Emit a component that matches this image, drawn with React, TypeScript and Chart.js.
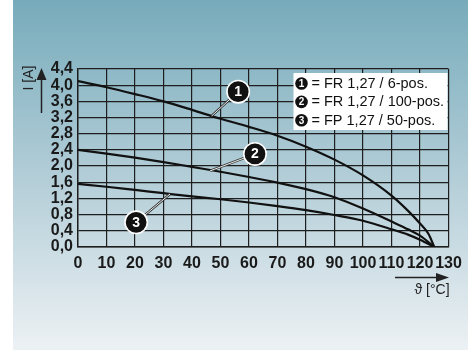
import React, { useEffect, useRef } from "react";
import { Chart, registerables } from "chart.js";

Chart.register(...registerables);

const xTicks = [0, 10, 20, 30, 40, 50, 60, 70, 80, 90, 100, 110, 120, 130];
const yTicks = [0, 0.4, 0.8, 1.2, 1.6, 2.0, 2.4, 2.8, 3.2, 3.6, 4.0, 4.4];

const curve1T = [0, 10, 20, 30, 40, 50, 60, 70, 80, 90, 100, 110, 116, 120, 123, 125];
const curve1I = [4.1, 3.95, 3.78, 3.6, 3.39, 3.17, 2.97, 2.75, 2.48, 2.16, 1.77, 1.27, 0.88, 0.58, 0.32, 0];

const curve2T = [0, 10, 20, 30, 40, 50, 60, 70, 80, 90, 100, 110, 116, 120, 125];
const curve2I = [2.4, 2.31, 2.21, 2.1, 1.98, 1.86, 1.73, 1.59, 1.43, 1.23, 0.95, 0.63, 0.43, 0.28, 0];

const curve3T = [0, 10, 20, 30, 40, 50, 60, 70, 80, 90, 100, 110, 116, 120, 125];
const curve3I = [1.56, 1.49, 1.41, 1.33, 1.25, 1.18, 1.1, 1.01, 0.91, 0.79, 0.65, 0.44, 0.3, 0.18, 0];

const legendLabels = ["= FR 1,27 / 6-pos.", "= FR 1,27 / 100-pos.", "= FP 1,27 / 50-pos."];
// callout: circle centre (°C, A) and leader target on curve (°C, A)
const calloutNum = ["1", "2", "3"];
const calloutCx = [56.2, 62.1, 20.4];
const calloutCy = [3.84, 2.3, 0.61];
const calloutTx = [46.9, 46.3, 32.3];
const calloutTy = [3.24, 1.88, 1.31];

const FONT = "'Liberation Sans', Arial, Helvetica, sans-serif";

const decorPlugin = {
  id: "decor",
  beforeDraw(chart: any) {
    const ctx = chart.ctx;
    ctx.save();
    const g = ctx.createLinearGradient(0, 0, 0, 350);
    g.addColorStop(0, "#77abbb");
    g.addColorStop(0.5, "#b2cdd7");
    g.addColorStop(1, "#ecf1f4");
    ctx.fillStyle = g;
    ctx.fillRect(13, 0, 455, 350);
    ctx.restore();
  },
  afterDraw(chart: any) {
    const ctx = chart.ctx;
    const xs = chart.scales.x;
    const ys = chart.scales.y;
    const ca = chart.chartArea;
    ctx.save();
    // callouts
    for (let i = 0; i < calloutNum.length; i++) {
      const cx = xs.getPixelForValue(calloutCx[i]);
      const cy = ys.getPixelForValue(calloutCy[i]);
      const tx = xs.getPixelForValue(calloutTx[i]);
      const ty = ys.getPixelForValue(calloutTy[i]);
      ctx.beginPath();
      ctx.moveTo(cx, cy);
      ctx.lineTo(tx, ty);
      ctx.strokeStyle = "#333";
      ctx.lineWidth = 2.4;
      ctx.stroke();
      ctx.beginPath();
      ctx.moveTo(cx, cy);
      ctx.lineTo(tx, ty);
      ctx.strokeStyle = "#ffffff";
      ctx.lineWidth = 0.9;
      ctx.stroke();
      ctx.beginPath();
      ctx.arc(cx, cy, 11.2, 0, Math.PI * 2);
      ctx.fillStyle = "#111";
      ctx.fill();
      ctx.strokeStyle = "#fff";
      ctx.lineWidth = 1.6;
      ctx.stroke();
      ctx.fillStyle = "#fff";
      ctx.font = `bold 14px ${FONT}`;
      ctx.textAlign = "center";
      ctx.textBaseline = "middle";
      ctx.fillText(calloutNum[i], cx, cy + 0.5);
    }
    // legend box
    const bx = ca.left + 215.5;
    const by = ca.top + 4;
    ctx.fillStyle = "#fff";
    ctx.fillRect(bx, by, 154, 57);
    for (let i = 0; i < legendLabels.length; i++) {
      const yy = by + 10.5 + i * 18.4;
      ctx.beginPath();
      ctx.arc(bx + 8, yy, 6.3, 0, Math.PI * 2);
      ctx.fillStyle = "#111";
      ctx.fill();
      ctx.fillStyle = "#fff";
      ctx.font = `bold 10px ${FONT}`;
      ctx.textAlign = "center";
      ctx.textBaseline = "middle";
      ctx.fillText(calloutNum[i], bx + 8, yy + 0.5);
      ctx.fillStyle = "#111";
      ctx.font = `14.5px ${FONT}`;
      ctx.textAlign = "left";
      ctx.fillText(legendLabels[i], bx + 18, yy + 0.5);
    }
    // y axis title + arrow
    ctx.fillStyle = "#222";
    ctx.strokeStyle = "#222";
    ctx.save();
    ctx.translate(29, ca.top + 9);
    ctx.rotate(-Math.PI / 2);
    ctx.font = `14px ${FONT}`;
    ctx.textAlign = "center";
    ctx.textBaseline = "middle";
    ctx.fillText("I [A]", 0, 0);
    ctx.restore();
    ctx.beginPath();
    ctx.moveTo(41.5, ca.top + 44);
    ctx.lineTo(41.5, ca.top + 8);
    ctx.lineWidth = 1.5;
    ctx.stroke();
    ctx.beginPath();
    ctx.moveTo(41.5, ca.top - 1);
    ctx.lineTo(36.5, ca.top + 11);
    ctx.lineTo(46.5, ca.top + 11);
    ctx.closePath();
    ctx.fill();
    // x axis title + arrow
    const ay = ca.bottom + 30.5;
    ctx.beginPath();
    ctx.moveTo(395, ay);
    ctx.lineTo(440, ay);
    ctx.stroke();
    ctx.beginPath();
    ctx.moveTo(449, ay);
    ctx.lineTo(436, ay - 4.5);
    ctx.lineTo(436, ay + 4.5);
    ctx.closePath();
    ctx.fill();
    ctx.font = `14px ${FONT}`;
    ctx.textAlign = "center";
    ctx.textBaseline = "middle";
    ctx.fillText("\u03d1 [°C]", 432, ay + 12.5);
    ctx.restore();
  },
};

function toPts(t: number[], v: number[]) {
  return t.map((x, i) => ({ x, y: v[i] }));
}

export default function App() {
  const ref = useRef<HTMLCanvasElement>(null);
  useEffect(() => {
    if (!ref.current) return;
    const lineDs = (data: any) => ({
      data,
      borderColor: "#111",
      borderWidth: 2.2,
      pointRadius: 0,
      cubicInterpolationMode: "monotone" as const,
      fill: false,
    });
    const chart = new Chart(ref.current, {
      type: "line",
      data: {
        datasets: [
          lineDs(toPts(curve1T, curve1I)),
          lineDs(toPts(curve2T, curve2I)),
          lineDs(toPts(curve3T, curve3I)),
        ],
      },
      options: {
        animation: false,
        responsive: false,
        devicePixelRatio: 1,
        layout: { padding: { top: 69, right: 24.5, left: 0, bottom: 0 } },
        plugins: { legend: { display: false }, tooltip: { enabled: false } },
        scales: {
          x: {
            type: "linear",
            min: 0,
            max: 130,
            afterBuildTicks: (s: any) => {
              s.ticks = xTicks.map((v) => ({ value: v }));
            },
            afterFit: (s: any) => {
              s.height = 104;
            },
            ticks: {
              autoSkip: false,
              maxRotation: 0,
              padding: 7,
              color: "#1a1a1a",
              font: { family: FONT, size: 16, weight: "bold" },
              callback: (v: any) => String(v),
            },
            grid: { color: "#1e1e1e", lineWidth: 1.2, drawTicks: false },
            border: { color: "#1e1e1e", width: 1.4 },
          },
          y: {
            type: "linear",
            min: 0,
            max: 4.4,
            afterBuildTicks: (s: any) => {
              s.ticks = yTicks.map((v) => ({ value: v }));
            },
            afterFit: (s: any) => {
              s.width = 78;
            },
            ticks: {
              autoSkip: false,
              padding: 5,
              color: "#1a1a1a",
              font: { family: FONT, size: 16, weight: "bold" },
              callback: (v: any) => Number(v).toFixed(1).replace(".", ","),
            },
            grid: { color: "#1e1e1e", lineWidth: 1.2, drawTicks: false },
            border: { color: "#1e1e1e", width: 1.4 },
          },
        },
      },
      plugins: [decorPlugin],
    });
    return () => chart.destroy();
  }, []);
  return (
    <div style={{ position: "absolute", left: 0, top: 0, width: 473, height: 351 }}>
      <canvas ref={ref} width={473} height={351} style={{ display: "block", width: 473, height: 351 }} />
    </div>
  );
}
